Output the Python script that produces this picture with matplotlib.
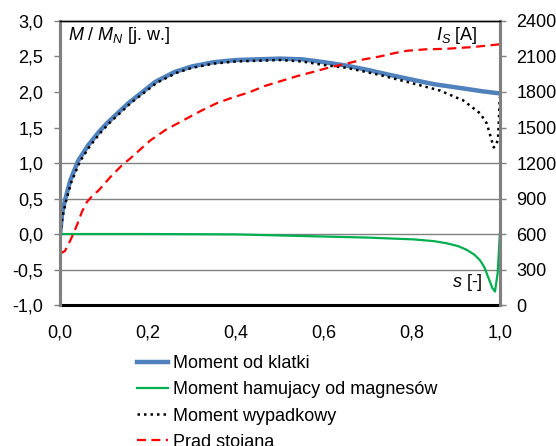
import matplotlib
matplotlib.use('Agg')
import matplotlib.pyplot as plt
from matplotlib.ticker import FuncFormatter

plt.rcParams['font.family'] = ['Liberation Sans', 'DejaVu Sans']
plt.rcParams['mathtext.fontset'] = 'custom'
plt.rcParams['mathtext.rm'] = 'Liberation Sans'
plt.rcParams['mathtext.it'] = 'Liberation Sans:italic'

# Moment od klatki
s_cage = [0.0, 0.005, 0.011, 0.023, 0.041, 0.064, 0.09, 0.11, 0.155, 0.216, 0.26, 0.3,
          0.35, 0.4, 0.45, 0.5, 0.55, 0.6, 0.652, 0.7, 0.75, 0.803, 0.85, 0.917, 0.96, 1.0]
m_cage = [0.0, 0.3, 0.47, 0.75, 1.03, 1.25, 1.45, 1.58, 1.84, 2.14, 2.28, 2.36,
          2.42, 2.45, 2.46, 2.47, 2.46, 2.42, 2.37, 2.31, 2.24, 2.17, 2.11, 2.05, 2.01, 1.98]

# Moment hamujacy od magnesow
s_mag = [0.0, 0.2, 0.4, 0.5, 0.6, 0.7, 0.803, 0.85, 0.879, 0.905, 0.924, 0.942, 0.955,
         0.965, 0.973, 0.983, 0.989, 0.995, 1.0]
m_mag = [0.0, 0.0, -0.005, -0.02, -0.035, -0.05, -0.075, -0.1, -0.13, -0.17, -0.22, -0.29, -0.37,
         -0.47, -0.6, -0.76, -0.81, -0.55, 0.0]

# Moment wypadkowy
s_res = [0.0, 0.006, 0.013, 0.025, 0.045, 0.068, 0.095, 0.115, 0.16, 0.22, 0.265, 0.3,
         0.35, 0.4, 0.45, 0.5, 0.55, 0.6, 0.652, 0.727, 0.803, 0.864, 0.917, 0.955,
         0.97, 0.98, 0.986, 0.992, 0.996, 1.0]
m_res = [0.0, 0.25, 0.45, 0.72, 1.02, 1.24, 1.45, 1.58, 1.84, 2.13, 2.27, 2.34,
         2.40, 2.43, 2.44, 2.45, 2.43, 2.38, 2.34, 2.24, 2.12, 2.02, 1.88, 1.70,
         1.56, 1.35, 1.22, 1.25, 1.36, 1.93]

# Prad stojana [A]
s_cur = [0.0, 0.011, 0.02, 0.03, 0.04, 0.05, 0.061, 0.074, 0.087, 0.1, 0.114, 0.14, 0.16,
         0.178, 0.205, 0.24, 0.28, 0.32, 0.356, 0.39, 0.432, 0.465, 0.5, 0.54, 0.576,
         0.61, 0.652, 0.69, 0.727, 0.76, 0.788, 0.83, 0.879, 0.94, 1.0]
i_cur = [435, 456, 520, 600, 690, 790, 870, 925, 966, 1020, 1080, 1178, 1240,
         1300, 1390, 1480, 1560, 1640, 1705, 1750, 1800, 1850, 1890, 1935, 1970,
         2005, 2040, 2075, 2100, 2128, 2148, 2160, 2165, 2180, 2203]

fig = plt.figure(figsize=(5.56, 4.46), dpi=100)
ax = fig.add_axes([0.108, 0.316, 0.791, 0.637])
ax2 = ax.twinx()

gray = '#808080'
for v in [1.0, 0.5, 0.0, -0.5]:
    ax.axhline(v, color=gray, lw=1.0, zorder=0)

l1, = ax.plot(s_cage, m_cage, color='#4F81BD', lw=3.2, label='Moment od klatki', zorder=2)
l2, = ax.plot(s_mag, m_mag, color='#00B050', lw=1.6, label='Moment hamujacy od magnesów', zorder=3)
l3, = ax.plot(s_res, m_res, color='black', lw=1.8, ls=(0, (1, 1.6)), label='Moment wypadkowy', zorder=4)
l4, = ax2.plot(s_cur, i_cur, color='#FF0000', lw=1.6, ls=(0, (4, 2.5)), label='Prad stojana')

ax.set_xlim(0, 1.0)
ax.set_ylim(-1.0, 3.0)
ax2.set_ylim(0, 2400)
ax.set_xticks([0, 0.2, 0.4, 0.6, 0.8, 1.0])
ax.set_yticks([-1.0, -0.5, 0, 0.5, 1.0, 1.5, 2.0, 2.5, 3.0])
ax2.set_yticks(range(0, 2401, 300))

comma = FuncFormatter(lambda v, p: f'{v:.1f}'.replace('.', ','))
ax.xaxis.set_major_formatter(comma)
ax.yaxis.set_major_formatter(comma)

ax.tick_params(axis='x', length=0, pad=14, labelsize=13)
ax.tick_params(axis='y', length=4, width=1, color=gray, pad=8, labelsize=13)
ax2.tick_params(axis='y', length=4, width=1, color=gray, pad=8, labelsize=13)

# small x tick marks on the zero line
ax2.spines['bottom'].set_position(('data', 600))
ax2.spines['bottom'].set_visible(True)
ax2.spines['bottom'].set_linewidth(0)
ax2.xaxis.set_ticks_position('bottom')
ax2.tick_params(axis='x', direction='inout', length=8, width=0.8, color='#b0b0b0',
                labelbottom=False)

for a in (ax, ax2):
    a.spines['left'].set_color(gray)
    a.spines['left'].set_linewidth(2.2)
    a.spines['right'].set_color(gray)
    a.spines['right'].set_linewidth(2.2)
    a.spines['top'].set_linewidth(1.0)
ax.spines['bottom'].set_linewidth(2.2)

ax.text(0.018, 0.95, r'$M$ / $M_N$ [j. w.]', transform=ax.transAxes, fontsize=13,
        ha='left', va='center')
ax.text(0.95, 0.95, r'$I_S$ [A]', transform=ax.transAxes, fontsize=13,
        ha='right', va='center')
ax.text(0.961, 0.081, r'$s$ [-]', transform=ax.transAxes, fontsize=13,
        ha='right', va='center')

fig.legend(handles=[l1, l2, l3, l4], loc='upper left', bbox_to_anchor=(0.247, 0.203),
           frameon=False, fontsize=13, handlelength=1.7, handletextpad=0.3,
           labelspacing=0.5, borderpad=0, borderaxespad=0)

fig.savefig('out.png', dpi=100)
